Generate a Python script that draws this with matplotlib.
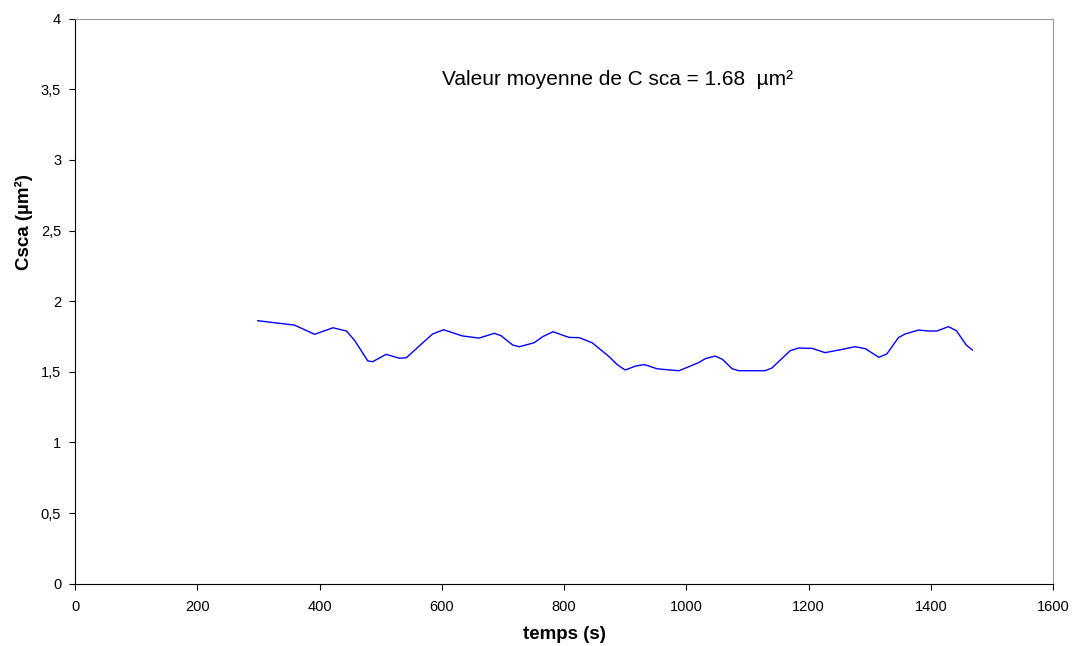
import numpy as np
import matplotlib.pyplot as plt

plt.rcParams['font.family'] = ['Liberation Sans', 'DejaVu Sans']

# data
temps = [299, 359, 392, 422, 444, 457, 479, 487, 509, 531, 542, 569, 585, 603,
         634, 661, 686, 697, 716, 727, 751, 765, 782, 808, 825, 846, 874, 887,
         900, 917, 931, 939, 952, 961, 988, 1004, 1020, 1031, 1047, 1059, 1075,
         1086, 1129, 1140, 1170, 1184, 1206, 1227, 1255, 1276, 1293, 1315, 1328,
         1347, 1358, 1380, 1396, 1410, 1429, 1442, 1458, 1468]
csca = [1.862, 1.831, 1.766, 1.812, 1.789, 1.725, 1.577, 1.572, 1.624, 1.596,
        1.600, 1.706, 1.768, 1.798, 1.754, 1.739, 1.773, 1.756, 1.690, 1.678,
        1.706, 1.749, 1.784, 1.744, 1.742, 1.706, 1.607, 1.551, 1.513, 1.541,
        1.551, 1.541, 1.522, 1.518, 1.508, 1.536, 1.565, 1.593, 1.612, 1.589,
        1.522, 1.508, 1.508, 1.527, 1.650, 1.669, 1.666, 1.636, 1.659, 1.678,
        1.664, 1.603, 1.626, 1.742, 1.768, 1.796, 1.789, 1.789, 1.820, 1.791,
        1.690, 1.655]
y_ticks = [0, 0.5, 1, 1.5, 2, 2.5, 3, 3.5, 4]
y_tick_labels = ['0', '0,5', '1', '1,5', '2', '2,5', '3', '3,5', '4']
x_ticks = list(range(0, 1601, 200))

fig = plt.figure(figsize=(10.72, 6.46), dpi=100)
ax = fig.add_axes([0.070, 0.0964, 0.9123, 0.8746])

ax.plot(temps, csca, color='#0000FF', linewidth=1.0)

ax.set_xlim(0, 1600)
ax.set_ylim(0, 4)
ax.set_xticks(x_ticks)
ax.set_yticks(y_ticks)
ax.set_yticklabels(y_tick_labels)
ax.tick_params(labelsize=10.5, direction='out', length=4, width=0.8, color='black')
ax.tick_params(axis='x', pad=8)
ax.tick_params(axis='y', pad=6)

for side in ['top', 'right']:
    ax.spines[side].set_color('#999999')
for side in ['left', 'bottom']:
    ax.spines[side].set_color('black')

ax.set_xlabel('temps (s)', fontsize=13.5, fontweight='bold', labelpad=8)
ax.set_ylabel('Csca (µm²)', fontsize=13.5, fontweight='bold')
ax.yaxis.set_label_coords(-0.043, 0.641)

ax.text(601, 3.53, 'Valeur moyenne de C sca = 1.68  µm²', fontsize=15,
        ha='left', va='baseline')

fig.savefig('out.png', dpi=100)
